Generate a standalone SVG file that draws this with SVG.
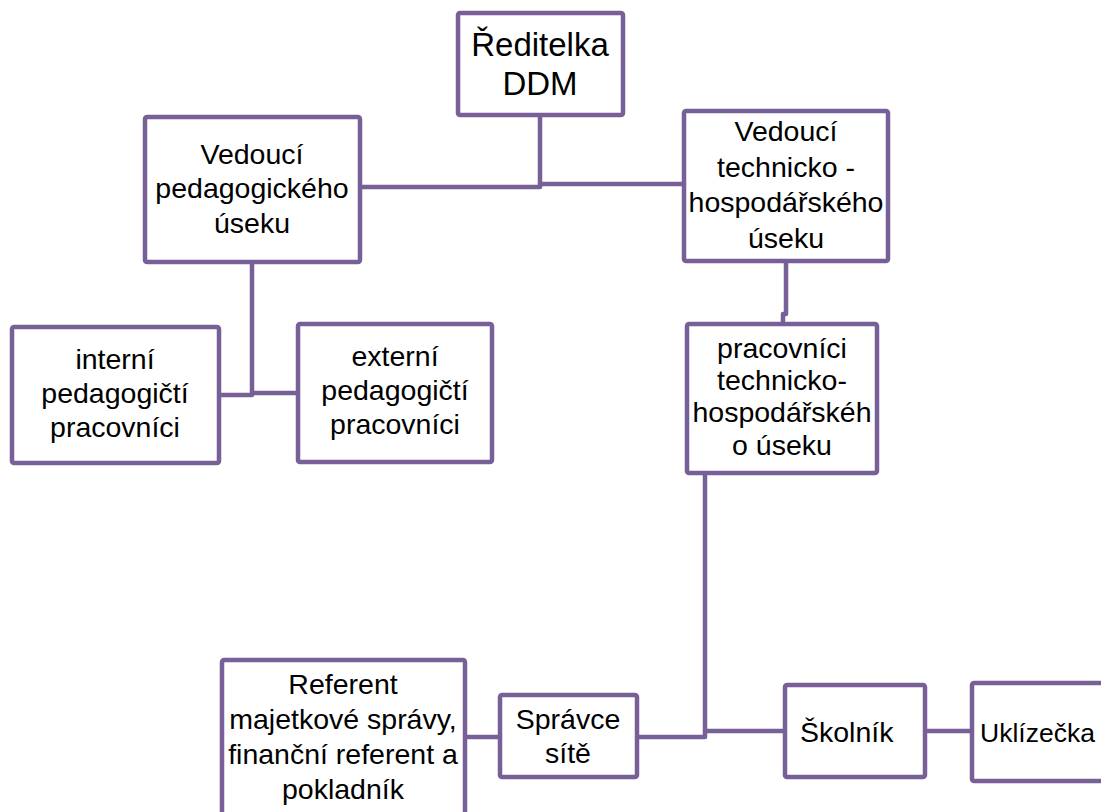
<svg xmlns="http://www.w3.org/2000/svg" width="1101" height="812" viewBox="0 0 1101 812">
<style>
.box{fill:#fff;stroke:#775F97;stroke-width:4.5;stroke-linejoin:round}
.con{fill:none;stroke:#775F97;stroke-width:4.5;stroke-linejoin:round}
text{font-family:"Liberation Sans",Arial,sans-serif;font-size:28.5px;fill:#000;text-anchor:middle}
.big{font-size:33px}
.l{text-anchor:start}
.s{font-size:26.5px}
</style>
<rect width="1101" height="812" fill="#fff"/>
<g id="connectors">
<path class="con" d="M361,187 H540 V115"/>
<path class="con" d="M540,184 H684"/>
<path class="con" d="M252,262 V395 H219"/>
<path class="con" d="M252,393 H298"/>
<path class="con" d="M786,262 V314 H783 V324"/>
<path class="con" d="M705,473 V737 H637"/>
<path class="con" d="M705,731 H785"/>
<path class="con" d="M465,737 H500"/>
<path class="con" d="M925,731 H972"/>
</g>
<g id="reditelka">
<rect class="box" x="458" y="13" width="165" height="102" rx="2"/>
<text class="big" x="540" y="56">Ředitelka</text>
<text class="big" x="540" y="95">DDM</text>
</g>
<g id="ved-ped">
<rect class="box" x="145" y="117" width="215" height="145" rx="2"/>
<text x="252" y="164">Vedoucí</text>
<text x="252" y="198">pedagogického</text>
<text x="252" y="233">úseku</text>
</g>
<g id="ved-tech">
<rect class="box" x="684" y="111" width="204" height="150" rx="2"/>
<text x="786" y="141">Vedoucí</text>
<text x="786" y="177">technicko -</text>
<text x="786" y="212">hospodářského</text>
<text x="786" y="248">úseku</text>
</g>
<g id="interni">
<rect class="box" x="12" y="327" width="207" height="136" rx="2"/>
<text x="115" y="369">interní</text>
<text x="115" y="403">pedagogičtí</text>
<text x="115" y="437">pracovníci</text>
</g>
<g id="externi">
<rect class="box" x="298" y="324" width="194" height="138" rx="2"/>
<text x="395" y="366">externí</text>
<text x="395" y="400">pedagogičtí</text>
<text x="395" y="434">pracovníci</text>
</g>
<g id="prac-tech">
<rect class="box" x="687" y="324" width="190" height="149" rx="2"/>
<text x="782" y="358">pracovníci</text>
<text x="782" y="390">technicko-</text>
<text x="782" y="422">hospodářskéh</text>
<text x="782" y="455">o úseku</text>
</g>
<g id="referent">
<rect class="box" x="222" y="660" width="243" height="170" rx="2"/>
<text x="343" y="694">Referent</text>
<text x="343" y="729">majetkové správy,</text>
<text x="343" y="764">finanční referent a</text>
<text x="343" y="799">pokladník</text>
</g>
<g id="spravce">
<rect class="box" x="500" y="695" width="137" height="82" rx="2"/>
<text x="568" y="729">Správce</text>
<text x="568" y="763">sítě</text>
</g>
<g id="skolnik">
<rect class="box" x="785" y="685" width="140" height="92" rx="2"/>
<text class="l" x="800" y="742">Školník</text>
</g>
<g id="uklizecka">
<rect class="box" x="972" y="683" width="150" height="98" rx="2"/>
<text class="l s" x="980" y="742">Uklízečka</text>
</g>
</svg>
